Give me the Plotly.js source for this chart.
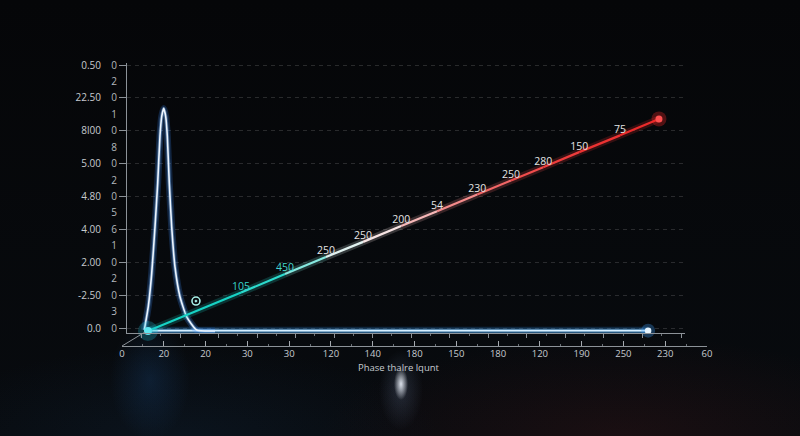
<!DOCTYPE html>
<html>
<head>
<meta charset="utf-8">
<script src="https://cdn.plot.ly/plotly-3.0.1.min.js"></script>
<style>
  html, body { margin: 0; padding: 0; }
  body {
    width: 800px; height: 436px; overflow: hidden;
    background:
      radial-gradient(ellipse 7px 16px at 401px 384px, rgba(240,246,255,0.9), rgba(240,246,255,0) 100%),
      radial-gradient(ellipse 22px 40px at 401px 390px, rgba(150,180,230,0.18), rgba(0,0,0,0) 100%),
      radial-gradient(ellipse 40px 60px at 150px 380px, rgba(40,120,210,0.16), rgba(0,0,0,0) 100%),
      radial-gradient(ellipse 300px 100px at 620px 436px, rgba(90,28,28,0.22), rgba(0,0,0,0) 100%),
      radial-gradient(ellipse 260px 90px at 180px 436px, rgba(20,50,80,0.22), rgba(0,0,0,0) 100%),
      linear-gradient(#050608, #080b0f);
  }
  #chart { width: 800px; height: 436px; }
</style>
</head>
<body>
<div id="chart"></div>
<script>
// tick labels as printed on the picture
const xTickPos = [0, 1, 2, 3, 4, 5, 6, 7, 8, 9, 10, 11, 12, 13, 14];
const xTickText = ["0", "20", "20", "30", "30", "120", "140", "180", "150", "180", "120", "190", "250", "230", "60"];

const yMajorPos = [0, 1, 2, 3, 4, 5, 6, 7, 8];
const yMajorText = ["0.0", "-2.50", "2.00", "4.00", "4.80", "5.00", "8l00", "22.50", "0.50"];
const yMinorPos = [0, 0.5, 1, 1.5, 2, 2.5, 3, 3.5, 4, 4.5, 5, 5.5, 6, 6.5, 7, 7.5, 8];
const yMinorText = ["0", "3", "0", "2", "0", "1", "6", "5", "0", "2", "0", "8", "0", "1", "0", "2", "0"];

// sharp peak near the origin
const peakX = [0.534, 0.629, 0.711, 0.790, 0.854, 0.909, 0.950, 0.998, 1.046, 1.084, 1.132, 1.189, 1.268, 1.388, 1.548, 1.788, 2.226];
const peakY = [-0.06, 0.65, 1.66, 3.08, 4.40, 5.84, 6.43, 6.68, 6.43, 5.84, 4.40, 3.08, 1.86, 0.95, 0.34, -0.06, -0.09];

// flat glowing baseline
const baseX = [0.62, 12.59];
const baseY = [-0.08, -0.08];

// rising line and its point labels
const trendX = [0.62, 2.85, 3.90, 4.88, 5.77, 6.68, 7.54, 8.50, 9.31, 10.08, 10.94, 11.92, 12.85];
const trendY = [-0.09, 1.08, 1.64, 2.16, 2.62, 3.10, 3.55, 4.06, 4.49, 4.89, 5.35, 5.86, 6.36];
const trendText = ["", "105", "450", "250", "250", "200", "54", "230", "250", "280", "150", "75", ""];

const iconX = [1.77];
const iconY = [0.82];

const segColors = ["#17d2c4", "#2cdacd", "#86e8df", "#e2f3f1", "#f7e4e4", "#f6b7b7",
                   "#f48b8b", "#f26666", "#f04c4c", "#ee3c3c", "#ec3232", "#ea2b2b"];
const labelColors = ["#ddd", "#38d3ca", "#45d6ce", "#e4e4e4", "#e4e4e4", "#e4e4e4",
                     "#e4e4e4", "#e4e4e4", "#e4e4e4", "#e4e4e4", "#e4e4e4", "#e4e4e4", "#ddd"];

const lineTrace = (x, y, color, width, opacity, shape) => {
    return {
        x: x, y: y,
        mode: 'lines',
        type: 'scatter',
        line: {color: color, width: width, shape: shape || 'linear', smoothing: 0.5},
        opacity: opacity,
        hoverinfo: 'skip',
        showlegend: false,
        cliponaxis: false
    }
}

const dotTrace = (x, y, color, size, opacity) => {
    return {
        x: x, y: y,
        mode: 'markers',
        type: 'scatter',
        marker: {color: color, size: size, line: {width: 0}},
        opacity: opacity,
        hoverinfo: 'skip',
        showlegend: false,
        cliponaxis: false
    }
}

// empty traces so the extra axes get drawn
const axisHolder = (xa, ya, xs) => {
    return {
        x: xs, y: xs.map(() => null),
        xaxis: xa, yaxis: ya,
        mode: 'markers', type: 'scatter',
        hoverinfo: 'skip', showlegend: false
    }
}

let traces = [];
traces.push(axisHolder('x', 'y2', [1, 2]));
traces.push(axisHolder('x2', 'y', xTickPos));

// baseline glow + core
traces.push(lineTrace(baseX, baseY, '#2f9bff', 8, 0.2));
traces.push(lineTrace(baseX, baseY, '#59b8ff', 4, 0.45));
traces.push(lineTrace(baseX, baseY, '#d6efff', 1.8, 1));

// peak glow + core
traces.push(lineTrace(peakX, peakY, '#3b8cff', 7, 0.22, 'spline'));
traces.push(lineTrace(peakX, peakY, '#8cc4ff', 3.5, 0.4, 'spline'));
traces.push(lineTrace(peakX, peakY, '#eef6ff', 1.6, 1, 'spline'));

// rising line drawn piecewise so the colour can shift from cyan to red
for (let i = 0; i < trendX.length - 1; i++) {
    const sx = trendX.slice(i, i + 2);
    const sy = trendY.slice(i, i + 2);
    traces.push(lineTrace(sx, sy, segColors[i], 7, 0.2));
    traces.push(lineTrace(sx, sy, segColors[i], 2.2, 1));
}

traces.push({
    x: trendX, y: trendY,
    mode: 'text',
    type: 'scatter',
    text: trendText,
    textposition: 'top center',
    textfont: {family: 'Open Sans, sans-serif', size: 10.5, color: labelColors},
    hoverinfo: 'skip',
    showlegend: false,
    cliponaxis: false
});

// small icon near the foot of the peak
traces.push({
    x: iconX, y: iconY,
    mode: 'markers',
    type: 'scatter',
    marker: {symbol: 'circle-open-dot', size: 8, color: '#a8f0e8', line: {width: 1.6, color: '#a8f0e8'}},
    hoverinfo: 'skip',
    showlegend: false
});

// end points
const n = trendX.length - 1;
traces.push(dotTrace([trendX[0]], [trendY[0]], '#1ec8e0', 20, 0.25));
traces.push(dotTrace([trendX[0]], [trendY[0]], '#5fe6f0', 8, 1));
traces.push(dotTrace([baseX[1]], [baseY[1]], '#3fa2ff', 14, 0.3));
traces.push(dotTrace([baseX[1]], [baseY[1]], '#e6f4ff', 6.5, 1));
traces.push(dotTrace([trendX[n]], [trendY[n]], '#ff2a2a', 15, 0.3));
traces.push(dotTrace([trendX[n]], [trendY[n]], '#ff5050', 7, 1));

const axisGrey = '#8c9298';
const tickFont = {family: 'Open Sans, sans-serif', size: 10, color: '#c6cacf'};

const layout = {
    width: 800,
    height: 436,
    margin: {l: 122, r: 93, t: 63, b: 90},
    paper_bgcolor: 'rgba(0,0,0,0)',
    plot_bgcolor: 'rgba(0,0,0,0)',
    hovermode: false,
    showlegend: false,
    xaxis: {
        domain: [0.00855, 0.9624],
        range: [0.1197, 13.473],
        anchor: 'y',
        showline: true, linecolor: axisGrey, linewidth: 1,
        ticks: 'outside', ticklen: 4, tickcolor: axisGrey, tickwidth: 1,
        tick0: 1.388, dtick: 0.9223,
        minor: {ticks: 'outside', ticklen: 2, tickcolor: '#6c7278', tick0: 1.388, dtick: 0.46115},
        showticklabels: false, showgrid: false, zeroline: false
    },
    xaxis2: {
        domain: [0, 1],
        range: [-0.001, 14.001],
        anchor: 'free',
        position: 0,
        side: 'bottom',
        showline: true, linecolor: axisGrey, linewidth: 1,
        ticks: 'inside', ticklen: 5, tickcolor: '#a5aab0', tickwidth: 1,
        tickmode: 'array', tickvals: xTickPos, ticktext: xTickText,
        minor: {ticks: 'inside', ticklen: 2, tickcolor: '#6c7278', dtick: 0.5, tick0: 0.5},
        tickfont: {family: 'Open Sans, sans-serif', size: 9.5, color: '#c6cacf'},
        ticklabelstandoff: -1,
        showgrid: false, zeroline: false
    },
    yaxis: {
        domain: [0.0459, 1],
        range: [-0.152, 8.061],
        anchor: 'x',
        showline: false,
        ticks: 'outside', ticklen: 7, tickcolor: 'rgba(0,0,0,0)',
        tickmode: 'array', tickvals: yMinorPos, ticktext: yMinorText,
        tickfont: {family: 'Open Sans, sans-serif', size: 10, color: '#b3b8bd'},
        showgrid: false, zeroline: false
    },
    yaxis2: {
        domain: [0.0459, 1],
        range: [-0.152, 8.061],
        overlaying: 'y',
        anchor: 'x',
        side: 'left',
        showline: true, linecolor: axisGrey, linewidth: 1,
        ticks: 'outside', ticklen: 7, tickcolor: axisGrey, tickwidth: 1,
        tickmode: 'array', tickvals: yMajorPos, ticktext: yMajorText,
        ticklabelstandoff: 16,
        tickfont: tickFont,
        showgrid: true, gridcolor: 'rgba(255,255,255,0.14)', griddash: '4px,4px', gridwidth: 1,
        zeroline: false
    },
    shapes: [
        // perspective edge joining the two base lines
        {type: 'line', xref: 'paper', yref: 'paper', x0: 0, y0: 0, x1: 0.039, y1: 0.049,
         line: {color: axisGrey, width: 1}}
    ],
    annotations: [
        {text: 'Phase thalre lqunt', xref: 'paper', yref: 'paper', x: 0.4735, y: 0,
         yshift: -21, showarrow: false, xanchor: 'center', yanchor: 'middle',
         font: {family: 'Open Sans, sans-serif', size: 9.5, color: '#c6cacf'}}
    ]
};

const plotConfig = {responsive: false, displayModeBar: false, staticPlot: true};
Plotly.newPlot('chart', traces, layout, plotConfig);
</script>
</body>
</html>
